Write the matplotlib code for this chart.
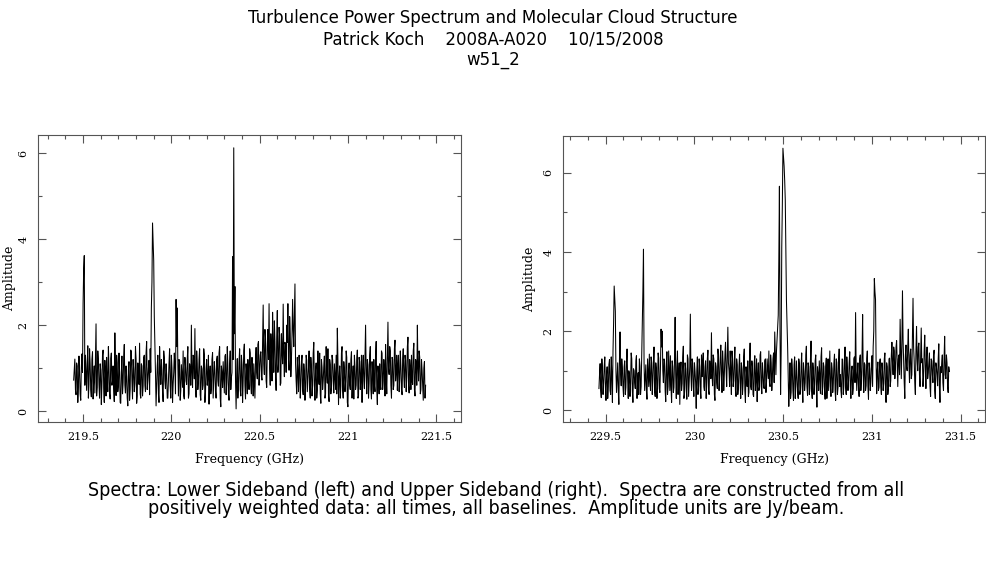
import matplotlib
matplotlib.use('Agg')
import matplotlib.pyplot as plt
from matplotlib.ticker import MultipleLocator
import numpy as np

# Canal de frequencias (GHz) de cada banda lateral
lsb_inicio, lsb_fim = 219.447, 221.440
usb_inicio, usb_fim = 229.462, 231.436

# Amplitudes (Jy/beam), banda lateral inferior, canais pares
lsb_amp = [
    0.72, 1.21, 0.38, 1.05, 0.55, 0.92, 0.25, 1.33, 2.5, 3.62, 1.3, 0.48, 1.52, 0.61, 1.1, 0.33, 1.38, 0.74, 0.42, 2.03,
    0.55, 1.18, 0.3, 0.95, 0.62, 1.42, 0.2, 0.88, 1.25, 0.45, 1.02, 0.28, 1.35, 0.7, 0.52, 1.82, 0.36, 1.12, 0.6, 0.9,
    0.18, 1.28, 0.66, 1.55, 0.42, 0.8, 0.12, 1.15, 0.5, 1.38, 0.28, 0.97, 0.64, 1.22, 0.35, 0.78, 1.58, 0.3, 1.05, 0.58,
    1.3, 0.45, 1.62, 0.72, 1.18, 1.45, 2.4, 4.38, 3.5, 1.6, 0.12, 1.05, 0.4, 1.5, 0.62, 0.95, 0.22, 1.25, 0.52, 0.85,
    0.3, 1.12, 0.58, 1.3, 0.2, 0.9, 1.02, 2.6, 2.4, 0.35, 1.15, 0.48, 0.82, 1.4, 0.28, 1.05, 0.62, 1.5, 0.4, 0.95,
    2.0, 0.55, 1.25, 1.92, 0.32, 1.1, 0.7, 1.45, 0.25, 0.98, 0.6, 1.32, 0.44, 1.2, 0.78, 0.16, 1.05, 0.52, 1.36, 0.7,
    0.95, 0.3, 1.28, 0.58, 1.5, 0.1, 0.88, 1.15, 0.42, 1.32, 0.66, 1.05, 0.25, 1.4, 0.78, 3.6, 6.13, 2.9, 0.05, 1.22,
    0.62, 1.45, 0.35, 1.08, 0.7, 1.56, 0.28, 0.92, 1.2, 0.5, 1.35, 0.4, 0.85, 1.1, 0.3, 1.48, 0.75, 1.62, 1.0, 1.38,
    0.72, 2.47, 0.85, 1.7, 0.55, 1.9, 2.5, 0.6, 1.45, 2.3, 0.9, 1.62, 0.48, 2.34, 1.1, 1.75, 0.65, 1.4, 2.49, 0.8,
    1.55, 2.0, 2.5, 0.95, 1.8, 1.2, 2.6, 1.5, 2.96, 0.7, 1.25, 0.45, 1.05, 0.62, 1.3, 0.38, 0.92, 0.55, 1.18, 0.72,
    1.4, 0.3, 0.98, 0.6, 1.6, 0.25, 1.12, 0.48, 0.85, 1.35, 0.18, 1.02, 0.7, 1.28, 0.4, 0.9, 1.45, 0.22, 1.08, 0.55,
    1.2, 0.42, 0.8, 1.3, 1.93, 0.15, 1.05, 0.58, 1.5, 0.3, 0.96, 0.68, 1.25, 0.1, 1.12, 0.5, 1.38, 0.72, 0.28, 1.02,
    0.6, 1.42, 0.35, 1.15, 0.78, 0.2, 1.3, 0.52, 2.0, 0.4, 1.08, 0.65, 1.5, 0.28, 0.92, 1.2, 0.45, 1.62, 0.15, 0.88,
    1.1, 0.5, 1.35, 0.7, 0.95, 1.55, 0.4, 2.07, 0.85, 1.4, 0.3, 1.2, 0.6, 1.65, 0.9, 0.48, 1.3, 0.75, 1.05, 0.38,
    1.45, 0.55, 1.18, 0.8, 1.72, 0.42, 1.0, 1.3, 0.62, 1.58, 0.35, 1.12, 2.0, 0.7, 1.25, 0.5, 0.95, 0.25, 1.15, 0.6,
]

# Canais impares (entre cada par de canais acima), banda lateral inferior
lsb_amp_meio = [
    0.95, 0.5, 1.12, 0.2, 1.28, 0.4, 1.0, 0.9, 3.3, 0.6, 0.85, 1.1, 0.3, 1.45, 0.5, 1.2, 0.28, 1.05, 1.3, 0.35,
    1.4, 0.62, 1.1, 0.15, 1.3, 0.55, 1.18, 0.35, 0.7, 1.5, 0.4, 1.22, 0.6, 1.05, 0.22, 0.95, 1.3, 0.45, 1.35, 0.2,
    0.9, 0.4, 1.25, 0.6, 1.05, 0.3, 0.95, 0.25, 1.42, 0.7, 1.2, 0.45, 1.5, 0.18, 1.12, 0.62, 0.4, 1.1, 0.35, 1.25,
    0.6, 1.35, 0.5, 1.0, 0.38, 0.9, 3.0, 3.9, 2.2, 0.9, 0.6, 1.3, 0.2, 0.98, 1.2, 0.45, 1.4, 0.7, 1.1, 0.3,
    0.75, 1.45, 0.3, 1.0, 0.62, 1.35, 0.4, 1.5, 1.1, 1.2, 0.25, 1.08, 0.55, 0.35, 1.25, 0.7, 1.2, 0.3, 1.1, 0.6,
    0.9, 1.3, 0.75, 0.6, 1.4, 0.5, 1.2, 0.38, 1.05, 0.5, 1.45, 0.2, 1.0, 0.6, 1.3, 0.85, 0.4, 1.2, 0.3, 1.15,
    0.45, 1.2, 0.7, 1.35, 0.3, 1.05, 0.55, 0.8, 1.28, 0.38, 1.5, 0.4, 1.1, 0.5, 0.9, 1.2, 1.8, 0.7, 0.85, 0.3,
    1.15, 0.5, 1.3, 0.2, 1.4, 0.6, 1.1, 0.4, 0.75, 1.45, 0.6, 1.25, 0.35, 0.7, 1.2, 0.9, 1.55, 0.6, 1.3, 0.8,
    1.6, 1.1, 1.9, 0.7, 1.5, 1.2, 1.0, 1.8, 0.7, 1.5, 2.1, 0.8, 1.7, 0.9, 1.95, 0.6, 1.8, 1.1, 1.3, 1.6,
    0.9, 1.6, 1.2, 2.2, 0.8, 1.75, 1.9, 2.3, 1.1, 0.4, 0.9, 1.3, 0.3, 1.15, 0.5, 1.1, 0.25, 1.3, 0.45, 1.0,
    0.5, 1.25, 0.35, 1.35, 0.6, 0.95, 0.3, 1.4, 0.62, 0.4, 1.2, 0.5, 1.05, 0.3, 1.5, 0.65, 0.35, 1.2, 0.4, 1.3,
    0.7, 1.1, 0.5, 0.4, 1.2, 0.75, 0.3, 1.35, 0.5, 1.15, 0.45, 1.4, 0.2, 0.95, 0.6, 1.2, 0.3, 1.05, 1.3, 0.5,
    1.2, 0.3, 1.25, 0.5, 1.3, 0.95, 0.7, 1.25, 0.85, 1.2, 0.3, 1.3, 0.5, 1.15, 0.4, 0.6, 1.3, 0.5, 1.05, 0.4,
    0.6, 1.4, 0.5, 1.2, 0.35, 0.8, 1.3, 1.0, 1.5, 0.6, 1.25, 0.5, 1.45, 0.7, 1.3, 1.1, 0.45, 1.4, 0.5, 1.2,
    0.8, 1.3, 0.45, 1.5, 0.6, 1.2, 0.5, 0.7, 1.4, 0.5, 1.2, 0.6, 1.0, 1.4, 0.4, 1.2, 0.6, 1.0, 0.3,
]

# Amplitudes (Jy/beam), banda lateral superior, canais pares
usb_amp = [
    0.55, 1.18, 0.32, 0.98, 0.7, 1.35, 0.25, 1.1, 0.6, 1.28, 0.4, 0.9, 1.5, 3.14, 2.5, 0.45, 1.2, 0.15, 1.98, 0.62,
    1.05, 0.35, 1.25, 0.58, 1.55, 0.3, 0.92, 0.68, 1.3, 0.2, 1.0, 0.55, 1.38, 0.72, 0.4, 1.12, 0.6, 2.28, 4.07, 0.5,
    1.15, 0.28, 0.95, 1.42, 0.5, 1.2, 0.78, 1.6, 0.35, 1.05, 0.62, 1.32, 0.45, 2.05, 2.0, 0.7, 1.25, 0.22, 1.48, 0.6,
    0.95, 1.38, 0.2, 1.1, 0.58, 2.35, 0.3, 1.5, 0.85, 0.15, 1.22, 0.68, 1.62, 0.4, 1.05, 0.28, 1.3, 0.75, 2.43, 0.5,
    1.2, 0.35, 0.98, 0.05, 1.35, 0.6, 1.1, 0.3, 0.85, 1.45, 0.5, 1.25, 0.7, 1.52, 0.4, 1.0, 1.96, 0.62, 1.3, 0.25,
    1.1, 0.55, 1.4, 0.8, 1.65, 0.45, 1.2, 0.9, 1.72, 0.6, 2.1, 1.0, 1.5, 0.4, 1.3, 0.75, 1.6, 0.35, 1.15, 0.58,
    1.42, 0.3, 1.05, 0.68, 1.55, 0.2, 0.92, 1.25, 0.45, 1.7, 0.52, 1.1, 0.35, 1.38, 0.78, 0.22, 1.2, 0.6, 1.48, 0.42,
    0.95, 0.55, 1.3, 0.72, 1.05, 1.5, 0.6, 1.2, 0.85, 1.45, 1.98, 0.9, 1.8, 2.4, 5.66, 0.4, 4.12, 6.62, 6.17, 5.31,
    2.77, 1.6, 0.1, 1.2, 0.45, 1.05, 0.25, 1.35, 0.6, 0.9, 0.3, 1.18, 0.52, 1.45, 0.2, 0.98, 0.7, 1.62, 0.38, 1.1,
    0.55, 1.75, 0.3, 1.02, 0.65, 1.4, 0.08, 0.92, 1.25, 0.42, 1.58, 0.6, 1.1, 0.28, 1.32, 0.75, 0.5, 1.5, 0.35, 1.05,
    0.7, 1.42, 0.25, 1.2, 0.58, 1.55, 0.9, 0.32, 1.28, 0.62, 1.6, 0.4, 1.05, 0.75, 1.48, 0.3, 1.12, 0.55, 1.35, 2.47,
    0.5, 1.2, 0.35, 1.4, 0.8, 2.42, 0.45, 1.15, 0.62, 1.5, 0.28, 1.05, 0.7, 1.38, 1.6, 3.33, 2.8, 0.42, 1.22, 0.58,
    1.3, 0.4, 0.98, 0.68, 1.45, 0.2, 1.1, 0.55, 1.32, 0.75, 1.72, 0.9, 1.5, 1.1, 1.76, 0.6, 1.4, 2.3, 0.8, 3.02,
    1.2, 0.3, 1.65, 1.0, 2.05, 0.7, 1.55, 0.9, 2.83, 1.25, 0.4, 2.12, 1.0, 1.7, 0.6, 2.08, 1.3, 0.85, 1.9, 0.55,
    1.6, 0.95, 1.45, 0.35, 1.25, 0.7, 1.52, 0.3, 1.1, 0.62, 1.68, 0.2, 0.95, 1.4, 0.5, 1.87, 0.8, 1.2, 0.45, 0.98,
]

# Canais impares, banda lateral superior
usb_amp_meio = [
    0.9, 0.5, 1.3, 0.4, 1.1, 0.6, 0.9, 0.3, 1.15, 0.5, 1.35, 0.2, 2.2, 2.8, 1.0, 0.8, 0.5, 1.25, 0.9, 1.3,
    0.6, 1.1, 0.4, 1.2, 0.8, 1.0, 0.35, 1.45, 0.5, 1.05, 0.7, 1.25, 0.3, 0.95, 1.3, 0.4, 1.4, 3.0, 1.2, 0.85,
    0.5, 1.3, 0.6, 0.75, 1.35, 0.4, 1.25, 0.5, 1.2, 0.3, 1.45, 0.55, 1.1, 1.6, 1.0, 1.3, 0.5, 1.1, 0.4, 1.5,
    0.5, 0.6, 1.25, 0.45, 1.3, 0.9, 1.1, 0.4, 1.2, 1.0, 0.5, 1.35, 0.3, 1.2, 0.55, 1.4, 0.35, 1.1, 0.9, 1.3,
    0.6, 1.2, 0.7, 1.0, 0.4, 1.3, 0.5, 1.4, 1.2, 0.6, 1.1, 0.3, 1.3, 0.5, 1.25, 0.8, 0.9, 1.4, 0.4, 1.2,
    0.7, 1.55, 0.5, 1.3, 0.9, 1.5, 0.5, 1.4, 1.0, 1.3, 1.2, 0.6, 1.0, 1.5, 0.6, 1.25, 0.5, 1.3, 0.4, 1.1,
    0.7, 1.2, 0.4, 1.35, 0.5, 1.1, 0.6, 0.35, 1.3, 0.6, 1.25, 0.4, 1.2, 0.5, 1.3, 0.9, 0.5, 1.4, 0.6, 1.2,
    0.6, 1.25, 0.45, 1.3, 0.8, 0.7, 1.4, 0.5, 1.3, 0.7, 1.4, 1.5, 2.1, 3.8, 2.0, 1.5, 5.2, 6.4, 5.8, 4.0,
    2.2, 0.8, 0.6, 0.3, 1.3, 0.5, 1.15, 0.3, 1.25, 0.5, 1.3, 0.4, 1.1, 0.6, 1.2, 0.5, 1.4, 0.6, 1.2, 0.4,
    1.3, 0.5, 1.2, 0.4, 1.25, 0.6, 1.1, 0.5, 0.8, 1.35, 0.4, 1.2, 0.5, 1.1, 0.3, 1.3, 1.0, 0.6, 1.2, 0.45,
    1.2, 0.5, 1.3, 0.4, 1.25, 0.6, 0.5, 1.3, 0.4, 1.2, 0.6, 1.35, 0.5, 1.2, 0.6, 1.0, 0.4, 1.3, 0.7, 1.0,
    0.9, 0.6, 1.3, 0.5, 1.4, 0.9, 1.2, 0.5, 1.3, 0.6, 1.2, 0.5, 1.2, 0.6, 2.0, 3.0, 1.2, 1.0, 0.5, 1.2,
    0.6, 1.2, 0.5, 1.3, 0.5, 1.2, 0.4, 1.3, 0.6, 1.4, 1.2, 1.6, 0.8, 1.6, 1.2, 1.3, 0.9, 1.5, 1.6, 1.8,
    0.7, 1.4, 1.1, 1.6, 1.2, 1.4, 0.8, 1.9, 1.6, 0.7, 1.5, 1.3, 1.6, 0.9, 1.4, 1.2, 0.6, 1.5, 1.1, 1.3,
    0.8, 1.2, 0.6, 1.3, 0.9, 1.4, 0.5, 1.2, 0.9, 1.3, 0.6, 1.1, 1.2, 0.7, 1.3, 0.9, 1.4, 0.6, 1.1,
]

titulo = ['Turbulence Power Spectrum and Molecular Cloud Structure',
          'Patrick Koch    2008A-A020    10/15/2008',
          'w51_2']
legenda = ['Spectra: Lower Sideband (left) and Upper Sideband (right).  Spectra are constructed from all',
           'positively weighted data: all times, all baselines.  Amplitude units are Jy/beam.']

xticks_lsb = [219.5, 220, 220.5, 221, 221.5]
xticks_usb = [229.5, 230, 230.5, 231, 231.5]
yticks = [0, 2, 4, 6]


def intercala(pares, impares):
    """Junta canais pares e impares num unico espectro."""
    assert len(impares) == len(pares) - 1
    amp = np.empty(len(pares) + len(impares))
    amp[0::2] = pares
    amp[1::2] = impares
    return amp


def desenha_painel(ax, inicio, fim, amp, xticks, xlim, ylim, ylabel_x):
    """Desenha um espectro no estilo PGPLOT (caixa com ticks para dentro)."""
    freq = np.linspace(inicio, fim, len(amp))
    ax.plot(freq, amp, color='black', lw=0.75)
    ax.set_xlim(*xlim)
    ax.set_ylim(*ylim)
    ax.set_xticks(xticks)
    ax.set_xticklabels([f'{t:g}' for t in xticks])
    ax.set_yticks(yticks)
    ax.xaxis.set_minor_locator(MultipleLocator(0.1))
    ax.yaxis.set_minor_locator(MultipleLocator(1))
    ax.tick_params(which='both', direction='in', top=True, right=True,
                   color='#555555', width=0.8)
    ax.tick_params(which='major', length=6, labelsize=8, pad=7)
    ax.tick_params(which='minor', length=3)
    for lbl in ax.get_yticklabels():
        lbl.set_rotation(90)
        lbl.set_va('center')
    for s in ax.spines.values():
        s.set_color('#555555')
        s.set_linewidth(0.8)
    ax.set_xlabel('Frequency (GHz)', fontsize=9, labelpad=8)
    ax.set_ylabel('Amplitude', fontsize=9)
    ax.yaxis.set_label_coords(ylabel_x, 0.5)


def main():
    plt.rcParams['font.family'] = ['DejaVu Serif']
    fig = plt.figure(figsize=(9.87, 5.67), dpi=100)

    ax1 = fig.add_axes([0.0385, 0.2557, 0.4285, 0.5063])
    ax2 = fig.add_axes([0.5705, 0.2557, 0.4275, 0.5045])

    desenha_painel(ax1, lsb_inicio, lsb_fim, intercala(lsb_amp, lsb_amp_meio),
                   xticks_lsb, (219.245, 221.64), (-0.256, 6.43), -0.052)
    desenha_painel(ax2, usb_inicio, usb_fim, intercala(usb_amp, usb_amp_meio),
                   xticks_usb, (229.26, 231.637), (-0.295, 6.93), -0.064)

    # Titulo em tres linhas
    for y, txt in zip([18, 40, 60], titulo):
        fig.text(493 / 987, 1 - y / 567, txt, ha='center', va='center',
                 fontsize=12, family=['DejaVu Sans'])

    # Legenda da figura
    for y, txt in zip([490, 508], legenda):
        fig.text(496 / 987, 1 - y / 567, txt, ha='center', va='center',
                 fontsize=14, family=['DejaVu Sans'], fontstretch='condensed')

    fig.savefig('out.png', dpi=100)


if __name__ == "__main__":
    main()
